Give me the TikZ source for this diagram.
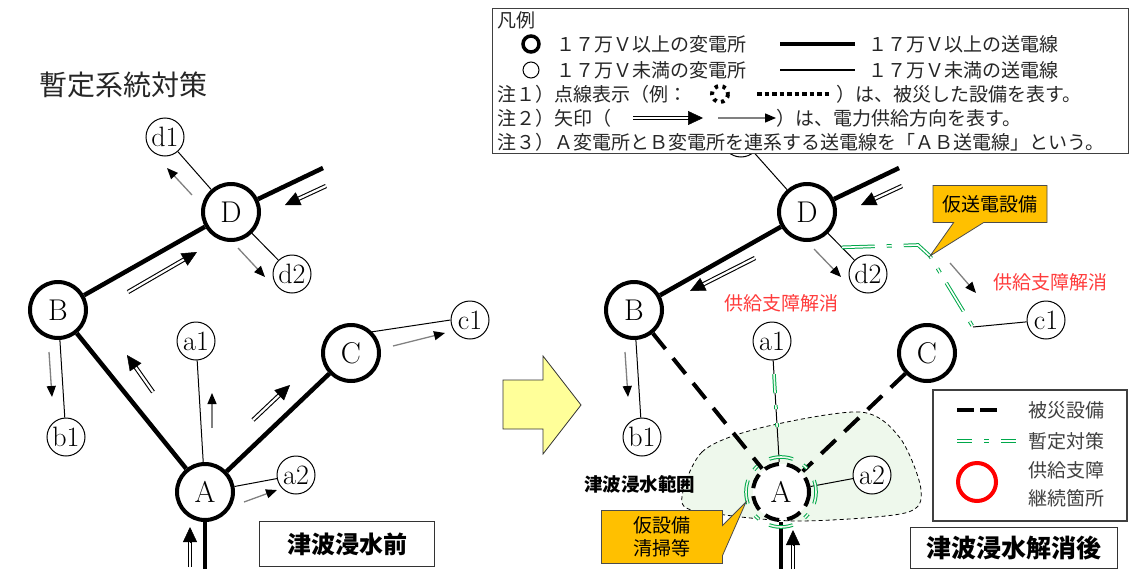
\documentclass[tikz,border=0pt]{standalone}
\usepackage{fontspec}
\newfontfamily\jp{Noto Sans CJK JP}
\usetikzlibrary{arrows.meta,calc,shapes.callouts}
\definecolor{kari}{HTML}{00A84A}
\definecolor{floodfill}{HTML}{EEF8EC}
\definecolor{callfill}{HTML}{FFC000}
\definecolor{arrowfill}{HTML}{FFFF99}
\definecolor{okred}{HTML}{FF3B3B}
\tikzset{
  bigst/.style={circle, draw, line width=4pt, minimum size=56pt, inner sep=0pt, fill=white, font=\fontsize{30}{30}\selectfont},
  smallst/.style={circle, draw, line width=1pt, minimum size=38pt, inner sep=0pt, fill=white, font=\fontsize{28}{28}\selectfont},
  hvline/.style={line width=4.5pt},
  lvline/.style={line width=1pt},
  supply/.style={double, double distance=2.2pt, line width=1.1pt, shorten >=12pt},
  supplytip/.style={line width=0.5pt, -{Triangle[length=15pt,width=14pt]}},
  feed/.style={draw=black!50, line width=1.3pt, -{Triangle[length=11pt,width=9pt,color=black]}},
  dmg/.style={line width=4pt, dash pattern=on 20pt off 12pt},
  tmpfix/.style={draw=kari, line width=1pt, double=white, double distance=1.6pt, dash pattern=on 33pt off 12pt on 5pt off 12pt},
  jtext/.style={font=\jp\fontsize{19}{23}\selectfont, inner sep=0pt, text=black!85},
  titlebox/.style={draw=black!80, line width=1pt, inner sep=0pt, font=\jp\bfseries\fontsize{24}{24}\selectfont},
  callbox/.style={rectangle callout, fill=callfill, draw=black!70, line width=0.8pt, callout pointer width=30pt, jtext, text=black}
}
% freccia doppia con punta piena
\newcommand{\flowarrow}[2]{%
  \draw[supply] #1 -- #2;
  \draw[supplytip] ($#2!15pt!#1$) -- #2;}
\begin{document}
\begin{tikzpicture}[x=1pt, y=-1pt]
\useasboundingbox (0,0) rectangle (1131,570);

% titolo
\node[font=\jp\fontsize{28}{28}\selectfont, text=black!85] (title) at (123,85) {暫定系統対策};

% prima: stazioni
\node[bigst] (A) at (205,492) {A};
\node[bigst] (B) at (58,310) {B};
\node[bigst] (C) at (351,353) {C};
\node[bigst] (D) at (231,212) {D};
\node[smallst] (a1) at (196,341) {a1};
\node[smallst] (a2) at (296,475) {a2};
\node[smallst] (b1) at (66,437) {b1};
\node[smallst] (c1) at (470,320) {c1};
\node[smallst] (d1) at (165,137) {d1};
\node[smallst] (d2) at (292,274) {d2};
\coordinate (Dout) at (323,168);
\coordinate (Ain) at (205,569);

% prima: linee
\draw[hvline] (A) -- (B);
\draw[hvline] (A) -- (C);
\draw[hvline] (B) -- (D);
\draw[hvline] (D) -- (Dout);
\draw[hvline] (A) -- (Ain);
\draw[lvline] (A) -- (a1);
\draw[lvline] (A) -- (a2);
\draw[lvline] (B) -- (b1);
\draw[lvline] (C.north east) -- (c1.west);
\draw[lvline] (D) -- (d1);
\draw[lvline] (D) -- (d2);

% prima: frecce
\flowarrow{(326,186)}{(285,205)}
\flowarrow{(128,292)}{(197,252)}
\flowarrow{(153,392)}{(127,355)}
\flowarrow{(253,420)}{(290,385)}
\flowarrow{(190,567)}{(190,527)}
\draw[feed] (192,195) -- (167,168);
\draw[feed] (238,248) -- (265,277);
\draw[feed] (212,428) -- (212,393);
\draw[feed] (393,346) -- (445,333);
\draw[feed] (244,502) -- (277,490);
\draw[feed] (49,352) -- (52,397);

\node[titlebox, minimum width=175pt, minimum height=45pt] (before) at (347,544) {津波浸水前};

% freccia gialla
\draw[fill=arrowfill, draw=black!80, line width=0.8pt] (503,380) -- (543,380) -- (543,356) -- (581,405) -- (543,454) -- (543,429) -- (503,429) -- cycle;

% dopo: area allagata
\draw[fill=floodfill, line width=0.8pt, dash pattern=on 4pt off 3pt] plot[smooth cycle] coordinates {(682,503) (702,452) (760,428) (860,412) (900,438) (921,490) (905,513) (800,521) (718,514)};
\node[font=\jp\bfseries\fontsize{18.5}{18.5}\selectfont, anchor=west, inner sep=0pt] (floodlbl) at (584,484) {津波浸水範囲};

% dopo: stazioni
\node[bigst, dash pattern=on 15pt off 8pt] (rA) at (781,492) {A};
\node[bigst] (rB) at (634,310) {B};
\node[bigst] (rC) at (927,353) {C};
\node[bigst] (rD) at (807,212) {D};
\node[smallst] (ra1) at (772,341) {a1};
\node[smallst] (ra2) at (872,475) {a2};
\node[smallst] (rb1) at (642,437) {b1};
\node[smallst] (rc1) at (1046,320) {c1};
\node[smallst] (rd1) at (741,138) {};
\node[smallst] (rd2) at (868,274) {d2};
\coordinate (rDout) at (899,168);
\coordinate (rAin) at (781,569);

% dopo: linee
\draw[hvline] (rB) -- (rD);
\draw[hvline] (rD) -- (rDout);
\draw[hvline] (rA) -- (rAin);
\draw[dmg] (rB) -- (rA);
\draw[dmg] (rC) -- (rA);
\draw[lvline] (rA) -- (ra1);
\draw[lvline] (rA) -- (ra2);
\draw[lvline] (rB) -- (rb1);
\draw[lvline] (rD) -- (rd1);
\draw[lvline] (rD) -- (rd2);

% dopo: misure provvisorie
\draw[tmpfix, double=floodfill, dash pattern=on 24pt off 12pt on 5pt off 14pt, dash phase=12pt] (rA) circle[radius=35];
\draw[tmpfix, double=floodfill, dash pattern=on 19pt off 12pt on 4pt off 14pt on 4pt off 20pt] ($(rA)!0.78!(ra1)$) -- ($(rA)!0.4!(ra1)$);
\coordinate (tap) at ($(rD)!0.57!(rd2)$);
\coordinate (tbend1) at (918,245);
\coordinate (tbend2) at (930,256);
\coordinate (tend) at (973,327);
\draw[tmpfix] (tap) -- (tbend1) -- (tbend2) -- (tend);
\draw[lvline] (tend) -- (rc1);

% dopo: frecce
\flowarrow{(902,186)}{(861,205)}
\flowarrow{(755,258)}{(690,291)}
\flowarrow{(793,569)}{(793,530)}
\draw[feed] (814,249) -- (841,277);
\draw[feed] (625,352) -- (628,397);
\draw[feed] (950,263) -- (976,293);

\node[jtext, text=okred] (ok1) at (781,303) {供給支障解消};
\node[jtext, text=okred] (ok2) at (1050,282) {供給支障解消};

% fumetti
\node[callbox, callout absolute pointer={(930,256)}, minimum width=114pt, minimum height=37pt] (tmpline) at (990,204) {仮送電設備};
\node[callbox, callout absolute pointer={(746,502)}, minimum width=121pt, minimum height=53pt, align=center] (tmpfac) at (662,537) {仮設備\\清掃等};

% legenda in basso
\draw[fill=white, draw=black!75, line width=1.2pt] (933,390) rectangle (1127,521);
\draw[line width=4.5pt, dash pattern=on 17pt off 6pt] (957,410) -- (997,410);
\draw[tmpfix, dash pattern=on 15pt off 12pt on 5pt off 12pt] (957,441) -- (1018,441);
\draw[red, line width=4pt] (977,482) circle[radius=19];
\node[jtext, anchor=west, text=black!75] (k1) at (1028,410) {被災設備};
\node[jtext, anchor=west, text=black!75] (k2) at (1028,441) {暫定対策};
\node[jtext, anchor=west, text=black!75, align=left, font=\jp\fontsize{19}{28}\selectfont] (k3) at (1028,484) {供給支障\\継続箇所};

\node[titlebox, minimum width=207pt, minimum height=41pt, font=\jp\bfseries\fontsize{25}{25}\selectfont] (after) at (1014,548) {津波浸水解消後};

% legenda in alto
\draw[fill=white, draw=black!75, line width=1pt] (492,8) rectangle (1128,153);
\node[jtext, anchor=west] (lg0) at (497,20) {凡例};
\draw[line width=3.5pt] (531,44) circle[radius=8];
\node[jtext, anchor=west] (lg1) at (556,44) {１７万Ｖ以上の変電所};
\draw[line width=4.5pt] (780,44) -- (855,44);
\node[jtext, anchor=west] (lg2) at (868,44) {１７万Ｖ以上の送電線};
\draw[line width=1pt] (531,70) circle[radius=8];
\node[jtext, anchor=west] (lg3) at (556,70) {１７万Ｖ未満の変電所};
\draw[line width=2pt] (780,70) -- (855,70);
\node[jtext, anchor=west] (lg4) at (868,70) {１７万Ｖ未満の送電線};
\node[jtext, anchor=west] (lg5) at (497,94) {注１）点線表示（例：};
\draw[line width=4pt, dash pattern=on 3.5pt off 4.5pt] (720,94) circle[radius=8];
\draw[line width=4.5pt, dash pattern=on 4.5pt off 3pt] (757,94) -- (832,94);
\node[jtext, anchor=west] (lg6) at (836,94) {）は、被災した設備を表す。};
\node[jtext, anchor=west] (lg7) at (497,118) {注２）矢印（};
\flowarrow{(633,118)}{(703,118)}
\draw[feed] (718,118) -- (776,118);
\node[jtext, anchor=west] (lg8) at (776,118) {）は、電力供給方向を表す。};
\node[jtext, anchor=west] (lg9) at (497,142) {注３）Ａ変電所とＢ変電所を連系する送電線を「ＡＢ送電線」という。};
\end{tikzpicture}
\end{document}
